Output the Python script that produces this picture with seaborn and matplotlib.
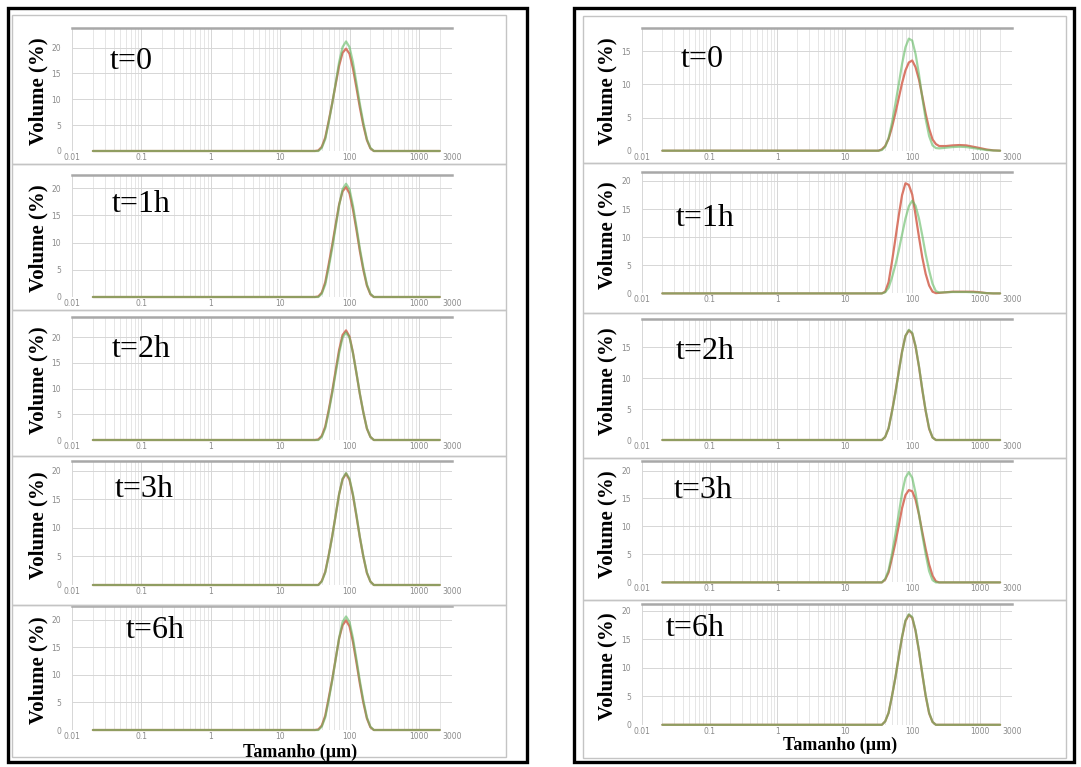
import numpy as np
import pandas as pd
import matplotlib
matplotlib.use("Agg")
import matplotlib.pyplot as plt
import seaborn as sns
from matplotlib.patches import Rectangle
from matplotlib.ticker import LogLocator, NullFormatter

sns.set_theme(style="white")
plt.rcParams["font.family"] = ["DejaVu Sans"]

W, H = 1081, 767

# ---------------- data ----------------
SIZES_UM = [0.02, 31.6, 35.5, 39.8, 44.7, 50.1, 56.2, 63.1, 70.8, 79.4, 89.1, 100, 112, 126,
            141, 158, 178, 200, 224, 251, 316, 398, 501, 631, 794, 1000, 1259, 1585, 2000]
TAIL0 = [0, 0, 0, 0, 0, 0, 0, 0, 0]

TIME_LABELS = ["t=0", "t=1h", "t=2h", "t=3h", "t=6h"]
X_TICKS = [0.01, 0.1, 1, 10, 100, 1000, 3000]
X_TICK_LABELS = ["0.01", "0.1", "1", "10", "100", "1000", "3000"]

# left column
L_GREEN = [
    [0, 0, 0, 0.6, 2.3, 5.5, 9.1, 13.1, 17.2, 20.1, 21.2, 20.1, 17.2, 13.1, 9.1, 5.5, 2.3, 0.6, 0, 0] + TAIL0,
    [0, 0, 0, 0.6, 2.3, 5.4, 8.9, 12.9, 16.8, 19.8, 20.8, 19.8, 16.8, 12.9, 8.9, 5.4, 2.3, 0.6, 0, 0] + TAIL0,
    [0, 0, 0, 0.6, 2.3, 5.4, 9.0, 13.0, 16.9, 19.9, 20.9, 19.9, 16.9, 13.0, 9.0, 5.4, 2.3, 0.6, 0, 0] + TAIL0,
    [0, 0, 0, 0.6, 2.2, 5.1, 8.4, 12.2, 15.9, 18.6, 19.6, 18.6, 15.9, 12.2, 8.4, 5.1, 2.2, 0.6, 0, 0] + TAIL0,
    [0, 0, 0, 0.6, 2.3, 5.4, 8.9, 12.8, 16.7, 19.6, 20.6, 19.6, 16.7, 12.8, 8.9, 5.4, 2.3, 0.6, 0, 0] + TAIL0,
]
L_RED = [
    [0, 0, 0.1, 0.8, 2.6, 5.8, 9.2, 12.9, 16.5, 19.0, 19.8, 18.8, 16.0, 12.2, 8.4, 5.0, 2.1, 0.5, 0, 0] + TAIL0,
    [0, 0, 0.1, 0.8, 2.7, 6.0, 9.5, 13.3, 17.0, 19.4, 20.2, 19.0, 16.1, 12.3, 8.4, 5.0, 2.1, 0.5, 0, 0] + TAIL0,
    [0, 0, 0.1, 0.8, 2.6, 5.8, 9.4, 13.5, 17.5, 20.4, 21.3, 20.1, 17.0, 12.9, 8.9, 5.4, 2.2, 0.6, 0, 0] + TAIL0,
    [0, 0, 0, 0.7, 2.3, 5.2, 8.5, 12.2, 15.9, 18.5, 19.5, 18.4, 15.7, 12.0, 8.3, 5.0, 2.1, 0.6, 0, 0] + TAIL0,
    [0, 0, 0.1, 0.8, 2.6, 5.8, 9.1, 12.9, 16.6, 19.0, 19.9, 18.8, 16.0, 12.2, 8.4, 5.0, 2.1, 0.5, 0, 0] + TAIL0,
]
L_YMAX = [23.8, 22.5, 23.9, 21.7, 22.5]
L_YTICKS = [[0, 5, 10, 15, 20]] * 5

# right column
R_GREEN = [
    [0, 0, 0.1, 0.6, 1.9, 4.2, 7.0, 10.0, 13.1, 15.6, 16.9, 16.6, 14.6, 11.5, 8.0, 4.8, 2.2, 0.8, 0.4, 0.35,
     0.45, 0.55, 0.6, 0.55, 0.4, 0.25, 0.1, 0.03, 0],
    [0, 0, 0, 0.2, 1.0, 2.8, 5.0, 7.6, 10.5, 13.3, 15.5, 16.5, 15.6, 13.3, 10.3, 7.0, 4.1, 1.7, 0.4, 0.15,
     0.2, 0.25, 0.25, 0.25, 0.2, 0.15, 0.05, 0, 0],
    [0, 0, 0, 0.5, 1.9, 4.5, 7.5, 10.9, 14.2, 16.8, 17.8, 17.3, 15.2, 11.9, 8.2, 4.8, 1.9, 0.4, 0, 0] + TAIL0,
    [0, 0, 0, 0.6, 2.2, 5.1, 8.5, 12.2, 16.0, 18.7, 19.7, 18.7, 16.0, 12.2, 8.5, 5.1, 2.0, 0.4, 0, 0] + TAIL0,
    [0, 0, 0, 0.6, 2.1, 5.0, 8.2, 11.9, 15.5, 18.3, 19.4, 18.9, 16.6, 13.0, 9.0, 5.2, 2.1, 0.5, 0, 0] + TAIL0,
]
R_RED = [
    [0, 0, 0.2, 0.7, 1.8, 3.5, 5.6, 7.9, 10.2, 12.1, 13.3, 13.6, 12.6, 10.7, 8.2, 5.6, 3.3, 1.7, 1.0, 0.7,
     0.7, 0.8, 0.85, 0.8, 0.6, 0.4, 0.18, 0.05, 0],
    [0, 0, 0, 0.3, 2.0, 5.6, 9.6, 13.8, 17.5, 19.6, 19.3, 17.6, 14.0, 10.0, 6.4, 3.5, 1.4, 0.3, 0.05, 0.1,
     0.2, 0.3, 0.3, 0.3, 0.3, 0.2, 0.05, 0, 0],
    [0, 0, 0, 0.5, 1.9, 4.6, 7.6, 11.0, 14.3, 16.8, 17.7, 17.2, 15.1, 11.8, 8.1, 4.7, 1.8, 0.4, 0, 0] + TAIL0,
    [0, 0, 0, 0.5, 1.8, 4.3, 7.0, 10.1, 13.3, 15.6, 16.5, 16.3, 14.8, 12.1, 9.0, 6.0, 3.2, 1.2, 0.2, 0] + TAIL0,
    [0, 0, 0, 0.6, 2.1, 5.0, 8.2, 11.9, 15.4, 18.2, 19.3, 18.8, 16.5, 12.9, 8.9, 5.1, 2.0, 0.5, 0, 0] + TAIL0,
]
R_YMAX = [18.5, 21.6, 19.6, 21.7, 21.2]
R_YTICKS = [[0, 5, 10, 15], [0, 5, 10, 15, 20], [0, 5, 10, 15], [0, 5, 10, 15, 20], [0, 5, 10, 15, 20]]

# ---------------- layout (pixels) ----------------
L_X = (72, 452)
R_X = (642, 1012)
L_ROWS = [(28, 151), (174.5, 297), (317, 440), (461, 585), (606, 730)]   # (top line, zero line)
R_ROWS = [(28, 150.7), (172, 293.4), (318.6, 440), (461, 582.4), (604, 724.8)]
L_PANELS = [(15, 164), (164, 310), (310, 456), (456, 605), (605, 757)]
R_PANELS = [(16, 163), (163, 313), (313, 458), (458, 600), (600, 758)]
L_PANEL_X = (12, 506)
R_PANEL_X = (583, 1066)
L_TXT = [(110, 69), (112, 212), (112, 357), (115, 497), (126, 638)]
R_TXT = [(681, 67), (676, 226), (676, 359), (674, 498), (666, 636)]

GREEN = "#5cb85c"
RED = "#d97868"

fig = plt.figure(figsize=(W / 100, H / 100), dpi=100)
fig.patch.set_facecolor("white")


def fx(x):
    return x / W


def fy(y):
    return 1 - y / H


# frames
for (x0, x1) in [(8, 527), (574, 1074)]:
    fig.patches.append(Rectangle((fx(x0), fy(762)), fx(x1) - fx(x0), fy(8) - fy(762),
                                 transform=fig.transFigure, fill=False, edgecolor="black",
                                 linewidth=2.4, zorder=10))
for (px0, px1), panels in [(L_PANEL_X, L_PANELS), (R_PANEL_X, R_PANELS)]:
    for (t, b) in panels:
        fig.patches.append(Rectangle((fx(px0), fy(b)), fx(px1) - fx(px0), fy(t) - fy(b),
                                     transform=fig.transFigure, fill=False, edgecolor="#c4c4c4",
                                     linewidth=1.0, zorder=1))


def draw_panel(xr, row, green, red, ymax, yticks, label, txtpos, ylab_x):
    top, zero = row
    ax = fig.add_axes([fx(xr[0]), fy(zero), fx(xr[1]) - fx(xr[0]), fy(top) - fy(zero)])
    ax.set_facecolor("none")
    df = pd.DataFrame({
        "size": SIZES_UM * 2,
        "volume": red + green,
        "serie": ["a"] * len(SIZES_UM) + ["b"] * len(SIZES_UM),
    })
    ax.set_xscale("log")
    sns.lineplot(data=df[df.serie == "a"], x="size", y="volume", ax=ax, color=RED,
                 linewidth=1.6, estimator=None, sort=False, legend=False, clip_on=False)
    sns.lineplot(data=df[df.serie == "b"], x="size", y="volume", ax=ax, color=GREEN,
                 linewidth=1.6, alpha=0.58, estimator=None, sort=False, legend=False, clip_on=False)
    ax.set_xlim(0.01, 3000)
    ax.set_ylim(0, ymax)
    ax.set_xticks(X_TICKS)
    ax.set_xticklabels(X_TICK_LABELS)
    ax.xaxis.set_minor_locator(LogLocator(base=10, subs=np.arange(2, 10)))
    ax.xaxis.set_minor_formatter(NullFormatter())
    ax.set_yticks(yticks)
    ax.set_yticklabels([str(v) for v in yticks])
    ax.grid(True, which="major", axis="both", color="#d6d6d6", linewidth=0.7)
    ax.grid(True, which="minor", axis="x", color="#e2e2e2", linewidth=0.6)
    ax.set_axisbelow(True)
    for s in ["left", "right", "bottom"]:
        ax.spines[s].set_visible(False)
    ax.spines["top"].set_color("#a8a8a8")
    ax.spines["top"].set_linewidth(1.8)
    ax.tick_params(axis="x", which="both", length=0, pad=1.5, labelsize=5.5, labelcolor="#8a8a8a")
    ax.tick_params(axis="y", which="both", length=0, pad=8, labelsize=5.5, labelcolor="#8a8a8a")
    ax.set_xlabel("")
    ax.set_ylabel("")
    fig.text(fx(txtpos[0]), fy(txtpos[1]), label, fontsize=23, family="Liberation Serif",
             ha="left", va="baseline", color="black")
    fig.text(fx(ylab_x), fy((top + zero) / 2 + 2), "Volume (%)", fontsize=15,
             family="Liberation Serif", fontweight="bold", rotation=90,
             ha="center", va="center", color="black")
    return ax


for i in range(5):
    draw_panel(L_X, L_ROWS[i], L_GREEN[i], L_RED[i], L_YMAX[i], L_YTICKS[i],
               TIME_LABELS[i], L_TXT[i], 38)
    draw_panel(R_X, R_ROWS[i], R_GREEN[i], R_RED[i], R_YMAX[i], R_YTICKS[i],
               TIME_LABELS[i], R_TXT[i], 607)

fig.text(fx(300), fy(752), "Tamanho (µm)", fontsize=13, family="Liberation Serif",
         fontweight="bold", ha="center", va="center", color="black")
fig.text(fx(840), fy(745), "Tamanho (µm)", fontsize=13, family="Liberation Serif",
         fontweight="bold", ha="center", va="center", color="black")

fig.savefig("out.png", dpi=100, facecolor="white")
